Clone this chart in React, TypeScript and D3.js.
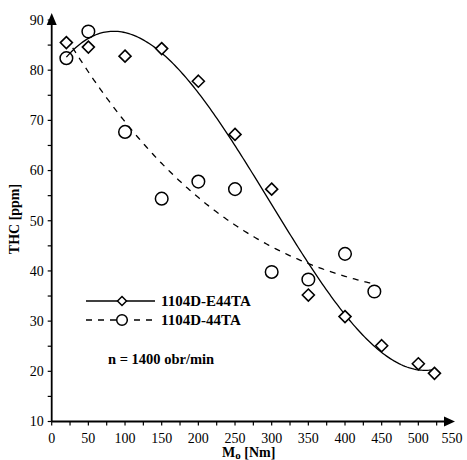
import React from "react";
import * as d3 from "d3";

// Measured THC emissions vs. engine torque at n = 1400 rpm
const torqueE44TA = [20, 50, 100, 150, 200, 250, 300, 350, 400, 450, 500, 522];
const thcE44TA = [85.5, 84.6, 82.8, 84.3, 77.8, 67.2, 56.3, 35.2, 30.9, 25.1, 21.5, 19.6];

const torque44TA = [20, 50, 100, 150, 200, 250, 300, 350, 400, 440];
const thc44TA = [82.4, 87.7, 67.7, 54.4, 57.8, 56.3, 39.8, 38.3, 43.4, 35.9];

const xTicks = [0, 50, 100, 150, 200, 250, 300, 350, 400, 450, 500, 550];
const yTicks = [10, 20, 30, 40, 50, 60, 70, 80, 90];

const legendLabels = ["1104D-E44TA", "1104D-44TA"];
const noteText = "n = 1400 obr/min";

const W = 467;
const H = 460;
const FONT = "'Liberation Serif', 'Times New Roman', serif";

// Least-squares polynomial fit (normal equations, Gaussian elimination)
function polyFit(xs: number[], ys: number[], deg: number): (x: number) => number {
  const s = 100;
  const n = deg + 1;
  const A: number[][] = Array.from({ length: n }, () => new Array(n + 1).fill(0));
  xs.forEach((xv, k) => {
    const t = xv / s;
    for (let i = 0; i < n; i++) {
      for (let j = 0; j < n; j++) A[i][j] += Math.pow(t, i + j);
      A[i][n] += ys[k] * Math.pow(t, i);
    }
  });
  for (let c = 0; c < n; c++) {
    let p = c;
    for (let r = c + 1; r < n; r++) if (Math.abs(A[r][c]) > Math.abs(A[p][c])) p = r;
    [A[c], A[p]] = [A[p], A[c]];
    for (let r = 0; r < n; r++) {
      if (r === c) continue;
      const f = A[r][c] / A[c][c];
      for (let k = c; k <= n; k++) A[r][k] -= f * A[c][k];
    }
  }
  const coef = A.map((row, i) => row[n] / row[i]);
  return (x: number) => coef.reduce((acc, cv, i) => acc + cv * Math.pow(x / s, i), 0);
}

export default function App() {
  const x = d3.scaleLinear().domain([0, 550]).range([51.7, 455]);
  const y = d3.scaleLinear().domain([10, 90]).range([421.5, 20]);

  const fitA = polyFit(torqueE44TA, thcE44TA, 3);
  const fitB = polyFit(torque44TA, thc44TA, 3);

  const curve = (f: (v: number) => number, x0: number, x1: number) => {
    const pts = d3.range(0, 201).map((i) => x0 + ((x1 - x0) * i) / 200);
    return d3
      .line<number>()
      .x((d) => x(d))
      .y((d) => y(f(d)))(pts) as string;
  };

  const diamond = (cx: number, cy: number, r = 6) =>
    `M${cx},${cy - r}L${cx + r},${cy}L${cx},${cy + r}L${cx - r},${cy}Z`;

  const x0 = x(0);
  const y0 = y(10);
  const xMinor = d3.range(0, 526, 25);
  const yMinor = d3.range(10, 91, 5);

  return (
    <svg width={W} height={H} style={{ position: "absolute", left: 0, top: 0, background: "#fff" }}>
      <rect width={W} height={H} fill="#fff" />
      {/* fitted trend curves */}
      <path d={curve(fitA, 20, 522)} fill="none" stroke="#000" strokeWidth={1.3} />
      <path
        d={curve(fitB, 20, 440)}
        fill="none"
        stroke="#000"
        strokeWidth={1.3}
        strokeDasharray="6,6"
      />
      {/* markers */}
      {torqueE44TA.map((t, i) => (
        <path
          key={"d" + i}
          d={diamond(x(t), y(thcE44TA[i]))}
          fill="#fff"
          stroke="#000"
          strokeWidth={1.6}
        />
      ))}
      {torque44TA.map((t, i) => (
        <circle
          key={"c" + i}
          cx={x(t)}
          cy={y(thc44TA[i])}
          r={6.3}
          fill="none"
          stroke="#000"
          strokeWidth={1.5}
        />
      ))}

      {/* axes */}
      <line x1={x0} y1={y0} x2={447} y2={y0} stroke="#000" strokeWidth={1.8} />
      <path d={`M${444},${y0 - 5}L${455},${y0}L${444},${y0 + 5}Z`} fill="#000" />
      <line x1={x0} y1={y0} x2={x0} y2={20} stroke="#000" strokeWidth={1.8} />
      <path d={`M${x0 - 5},${25}L${x0},${13}L${x0 + 5},${25}Z`} fill="#000" />
      {xMinor.map((t) => (
        <line key={"xt" + t} x1={x(t)} x2={x(t)} y1={y0} y2={y0 + 4} stroke="#000" strokeWidth={1.2} />
      ))}
      {yMinor.map((t) => (
        <line key={"yt" + t} x1={x0 - 4} x2={x0} y1={y(t)} y2={y(t)} stroke="#000" strokeWidth={1.2} />
      ))}
      {xTicks.map((t) => (
        <text
          key={"xl" + t}
          x={t === 550 ? x(t) - 3 : x(t)}
          y={y0 + 21}
          textAnchor="middle"
          fontFamily={FONT}
          fontSize={14}
        >
          {t}
        </text>
      ))}
      {yTicks.map((t) => (
        <text
          key={"yl" + t}
          x={x0 - 8}
          y={y(t)}
          dy="0.35em"
          textAnchor="end"
          fontFamily={FONT}
          fontSize={14}
        >
          {t}
        </text>
      ))}

      {/* axis titles */}
      <text x={222} y={456.5} fontFamily={FONT} fontSize={14} fontWeight="bold">
        M<tspan fontSize={11} dy={2}>o</tspan>
        <tspan dy={-2}> [Nm]</tspan>
      </text>
      <text
        transform="translate(19,219) rotate(-90)"
        textAnchor="middle"
        fontFamily={FONT}
        fontSize={14}
        fontWeight="bold"
      >
        THC [ppm]
      </text>

      {/* legend */}
      <line x1={86} x2={155} y1={301} y2={301} stroke="#000" strokeWidth={1.3} />
      <path d={diamond(122, 301, 4.5)} fill="#fff" stroke="#000" strokeWidth={1.5} />
      <text x={161} y={301} dy="0.35em" fontFamily={FONT} fontSize={15} fontWeight="bold">
        {legendLabels[0]}
      </text>
      <line x1={86} x2={155} y1={320} y2={320} stroke="#000" strokeWidth={1.3} strokeDasharray="6,6" />
      <circle cx={122} cy={320} r={5.3} fill="#fff" stroke="#000" strokeWidth={1.5} />
      <text x={161} y={320} dy="0.35em" fontFamily={FONT} fontSize={15} fontWeight="bold">
        {legendLabels[1]}
      </text>
      <text x={108} y={359} dy="0.35em" fontFamily={FONT} fontSize={14.5} fontWeight="bold">
        {noteText}
      </text>
    </svg>
  );
}
